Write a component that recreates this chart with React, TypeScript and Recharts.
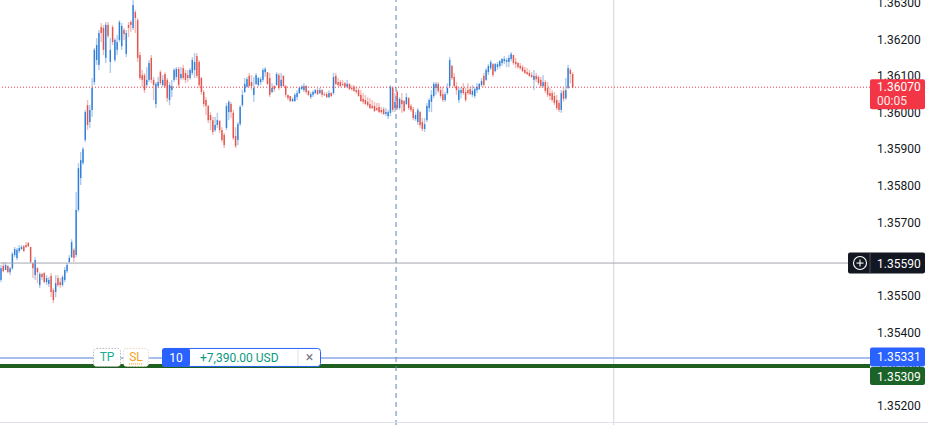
import { ComposedChart, Bar, XAxis, YAxis, ReferenceLine } from "recharts";

// 1-minute candles, oldest first
const opens = [
  1.35544, 1.35582, 1.35571, 1.35582, 1.35565, 1.35576, 1.35612, 1.35604, 1.35623, 1.35628,
  1.35636, 1.35639, 1.35645, 1.35634, 1.3559, 1.35557, 1.35576, 1.3553, 1.3556, 1.35563,
  1.35538, 1.35533, 1.35555, 1.35516, 1.35511, 1.35549, 1.35538, 1.3553, 1.35544, 1.35568,
  1.35593, 1.35606, 1.35626, 1.35612, 1.35735, 1.35822, 1.35863, 1.35926, 1.36021, 1.35975,
  1.36008, 1.36084, 1.36144,
  1.36131, 1.36234, 1.36232, 1.3615, 1.3624, 1.36139, 1.36234, 1.36144, 1.36172, 1.36199,
  1.36182, 1.36226, 1.36161, 1.3624, 1.36248, 1.36232, 1.36275, 1.36253, 1.36158, 1.36103,
  1.36103, 1.36076, 1.3609, 1.3615, 1.3609, 1.36024, 1.36073, 1.36111, 1.36076, 1.36106,
  1.3609, 1.36035, 1.36062, 1.3609, 1.36098, 1.3612, 1.36095, 1.36122, 1.36109, 1.36103,
  1.36095, 1.36109, 1.36117, 1.36155,
  1.36139, 1.36095, 1.36057, 1.36035, 1.36019, 1.35994, 1.3598, 1.35953, 1.35967, 1.35978,
  1.35953, 1.3594, 1.35959, 1.36002, 1.36024, 1.36, 1.35937, 1.35926, 1.35969, 1.36021,
  1.36057, 1.36071, 1.36101, 1.36084, 1.36049, 1.36079, 1.36076, 1.36084, 1.3609, 1.36111,
  1.36111, 1.36095, 1.36057, 1.36073, 1.36076, 1.36103, 1.36073, 1.36101, 1.36073, 1.36049,
  1.36046, 1.36032, 1.36032, 1.36043, 1.36054, 1.36065,
  1.36062, 1.36073, 1.3606, 1.36043, 1.36049, 1.36054, 1.36062, 1.36054, 1.36062, 1.36051,
  1.36051, 1.36043, 1.36054, 1.36054, 1.36101, 1.36084, 1.36084, 1.36079, 1.36081, 1.36071,
  1.36079, 1.36068, 1.36071, 1.36062, 1.36062, 1.36049, 1.36038, 1.36035, 1.3603, 1.36024,
  1.36019, 1.36019, 1.36013, 1.36016, 1.36008, 1.3601, 1.35997, 1.35991, 1.36, 1.36068,
  1.36013, 1.36057, 1.36013, 1.36035, 1.36032, 1.36024, 1.3604,
  1.36019, 1.3601, 1.35983, 1.35975, 1.36002, 1.35975, 1.35956, 1.3598, 1.36013, 1.3603,
  1.36046, 1.36068, 1.36079, 1.36062, 1.36051, 1.36035, 1.36054, 1.36073, 1.36128, 1.36098,
  1.36073, 1.36035, 1.36054, 1.36068, 1.36057, 1.36062, 1.36065, 1.36049, 1.36046, 1.36062,
  1.36065, 1.36076, 1.36101, 1.3609, 1.36111, 1.36122, 1.36133, 1.36114, 1.36125,
  1.36128, 1.36136, 1.36141, 1.36139, 1.36139, 1.36147, 1.36158, 1.36139, 1.36136, 1.36128,
  1.36125, 1.36117, 1.36111, 1.36109, 1.36103, 1.3609, 1.36101, 1.36098, 1.3609, 1.36073,
  1.36084, 1.36068, 1.36054, 1.36054, 1.36046, 1.36035, 1.36027, 1.36008, 1.3606, 1.3604,
  1.36068, 1.36117, 1.36106,
];

const highs = [
  1.35585, 1.35593, 1.35593, 1.35585, 1.35579, 1.3562, 1.35634, 1.35631, 1.35639, 1.35639,
  1.35639, 1.35647, 1.35647, 1.35634, 1.3559, 1.35606, 1.35579, 1.35565, 1.35563, 1.35565,
  1.35557, 1.35552, 1.35563, 1.35522, 1.35557, 1.35557, 1.35549, 1.35557, 1.35579, 1.3559,
  1.35612, 1.35655, 1.35631, 1.35784, 1.35863, 1.35893, 1.35907, 1.36008, 1.36035, 1.36021,
  1.36095, 1.36177, 1.36204,
  1.36226, 1.36245, 1.3624, 1.36248, 1.36248, 1.36204, 1.3624, 1.36204, 1.36212, 1.36253,
  1.36245, 1.36232, 1.36226, 1.36248, 1.36253, 1.36319, 1.36281, 1.36259, 1.36166, 1.36117,
  1.36109, 1.36125, 1.36144, 1.36158, 1.36098, 1.36084, 1.36098, 1.36117, 1.36103, 1.36111,
  1.36095, 1.36084, 1.3609, 1.36122, 1.36125, 1.36125, 1.36125, 1.36131, 1.36117, 1.36117,
  1.36122, 1.36152, 1.36163, 1.36163,
  1.36144, 1.36098, 1.36062, 1.36043, 1.36021, 1.36002, 1.35989, 1.35989, 1.36, 1.3598,
  1.35961, 1.35945, 1.36027, 1.36035, 1.3603, 1.36008, 1.35961, 1.35975, 1.36021, 1.36062,
  1.36095, 1.36098, 1.36109, 1.36103, 1.36098, 1.36109, 1.36098, 1.36098, 1.36122, 1.36125,
  1.36111, 1.36109, 1.36081, 1.36076, 1.36111, 1.36109, 1.36109, 1.36103, 1.36076, 1.36049,
  1.36046, 1.36043, 1.36054, 1.36062, 1.36071, 1.36076,
  1.36081, 1.36076, 1.36062, 1.36057, 1.36062, 1.36065, 1.36068, 1.36068, 1.36065, 1.36057,
  1.36057, 1.36062, 1.36057, 1.36109, 1.36109, 1.36095, 1.3609, 1.3609, 1.36084, 1.3609,
  1.36081, 1.36076, 1.36076, 1.36071, 1.36068, 1.36062, 1.36054, 1.36049, 1.36043, 1.3604,
  1.36035, 1.3603, 1.36027, 1.36027, 1.36016, 1.36016, 1.36013, 1.36008, 1.36076, 1.36071,
  1.36054, 1.36062, 1.36043, 1.36054, 1.36035, 1.36054, 1.36043,
  1.36024, 1.36016, 1.36002, 1.36013, 1.36005, 1.35986, 1.35986, 1.36027, 1.3604, 1.36062,
  1.36084, 1.36084, 1.36084, 1.36071, 1.36071, 1.36057, 1.36081, 1.36152, 1.36131, 1.36109,
  1.36084, 1.36068, 1.36071, 1.36081, 1.36068, 1.36081, 1.36071, 1.36076, 1.36071, 1.36081,
  1.36081, 1.36095, 1.36109, 1.36122, 1.36133, 1.36144, 1.36136, 1.36136, 1.36139,
  1.36144, 1.3615, 1.36155, 1.3615, 1.36158, 1.36166, 1.36158, 1.3615, 1.36139, 1.36136,
  1.36131, 1.36125, 1.36122, 1.36117, 1.36111, 1.36117, 1.36109, 1.36103, 1.36098, 1.36103,
  1.3609, 1.36084, 1.36068, 1.36062, 1.36057, 1.36049, 1.36035, 1.36062, 1.36068, 1.36095,
  1.36131, 1.36122, 1.36111,
];

const lows = [
  1.35538, 1.35565, 1.35571, 1.35563, 1.35557, 1.35571, 1.35606, 1.35598, 1.35617, 1.35626,
  1.3562, 1.35631, 1.35634, 1.3559, 1.35549, 1.35544, 1.35535, 1.35522, 1.35544, 1.35535,
  1.3553, 1.35525, 1.35497, 1.35481, 1.35497, 1.35525, 1.35522, 1.35525, 1.35538, 1.35563,
  1.3559, 1.35604, 1.35593, 1.35606, 1.35729, 1.35803, 1.35858, 1.3592, 1.35953, 1.35959,
  1.35989, 1.36076, 1.36131,
  1.36117, 1.36193, 1.36158, 1.36136, 1.36204, 1.36109, 1.36185, 1.36139, 1.36158, 1.36193,
  1.36172, 1.36199, 1.36152, 1.36207, 1.36221, 1.36226, 1.36218, 1.36139, 1.3609, 1.36071,
  1.36054, 1.36071, 1.36084, 1.36081, 1.36035, 1.36013, 1.36068, 1.36076, 1.36071, 1.36068,
  1.3603, 1.36021, 1.36043, 1.36084, 1.3609, 1.36068, 1.3609, 1.3609, 1.36081, 1.36084,
  1.3609, 1.36103, 1.36095, 1.36095,
  1.36068, 1.36049, 1.36016, 1.35994, 1.35972, 1.35953, 1.3594, 1.35948, 1.35959, 1.35945,
  1.3592, 1.35904, 1.35953, 1.3598, 1.35986, 1.35926, 1.35904, 1.35912, 1.35964, 1.36016,
  1.36054, 1.36068, 1.36071, 1.36062, 1.3603, 1.36076, 1.36071, 1.36076, 1.36084, 1.36098,
  1.36076, 1.36043, 1.36054, 1.36057, 1.36073, 1.36062, 1.36068, 1.36071, 1.36043, 1.36035,
  1.3603, 1.3603, 1.3603, 1.36035, 1.36051, 1.36062,
  1.36057, 1.36051, 1.36046, 1.36038, 1.36043, 1.36051, 1.36049, 1.36051, 1.36043, 1.36046,
  1.3604, 1.3604, 1.36043, 1.36049, 1.36076, 1.36071, 1.36071, 1.36073, 1.36068, 1.36068,
  1.36062, 1.3606, 1.36057, 1.36051, 1.36043, 1.3603, 1.36024, 1.36021, 1.36016, 1.3601,
  1.3601, 1.36002, 1.36005, 1.36, 1.35997, 1.35994, 1.35991, 1.35983, 1.35991, 1.36002,
  1.36002, 1.36008, 1.36008, 1.36, 1.36002, 1.36021, 1.36008,
  1.36002, 1.3598, 1.35978, 1.35967, 1.35959, 1.3595, 1.35948, 1.35975, 1.36002, 1.36002,
  1.3604, 1.36049, 1.36054, 1.3604, 1.3603, 1.3603, 1.36049, 1.36068, 1.3609, 1.36068,
  1.36049, 1.36027, 1.3604, 1.36049, 1.3603, 1.36049, 1.36049, 1.36043, 1.3604, 1.36054,
  1.36062, 1.36071, 1.36071, 1.36087, 1.36103, 1.36117, 1.36098, 1.36111, 1.36117,
  1.36122, 1.36128, 1.36133, 1.36125, 1.36125, 1.36141, 1.36131, 1.36122, 1.3612, 1.36117,
  1.36111, 1.36106, 1.36103, 1.36098, 1.36095, 1.36062, 1.36084, 1.36076, 1.36068, 1.36068,
  1.36054, 1.36043, 1.36035, 1.3603, 1.36021, 1.36008, 1.36002, 1.36, 1.3603, 1.36035,
  1.36065, 1.36081, 1.36068,
];

const closes = [
  1.35576, 1.35568, 1.35585, 1.35565, 1.35576, 1.35615, 1.35628, 1.35626, 1.35631, 1.35634,
  1.35623, 1.35634, 1.35636, 1.35593, 1.35576, 1.35598, 1.35565, 1.3556, 1.35552, 1.35538,
  1.35549, 1.35544, 1.35511, 1.35489, 1.35535, 1.3553, 1.3553, 1.35552, 1.35571, 1.35585,
  1.35604, 1.35647, 1.35604, 1.35735, 1.35849, 1.35871, 1.35901, 1.36002, 1.35967, 1.36008,
  1.36068, 1.36172, 1.36185,
  1.36218, 1.36218, 1.36172, 1.3624, 1.3621, 1.36172, 1.36193, 1.36199, 1.36193, 1.36248,
  1.36237, 1.36215, 1.36218, 1.36232, 1.3624, 1.36294, 1.36259, 1.3615, 1.36095, 1.3609,
  1.36062, 1.3609, 1.36136, 1.3609, 1.36076, 1.36079, 1.36084, 1.36081, 1.3609, 1.36073,
  1.3604, 1.36076, 1.36073, 1.36117, 1.3612, 1.36076, 1.36106, 1.36095, 1.3609, 1.36095,
  1.36117, 1.36144, 1.36139, 1.36101,
  1.36076, 1.36057, 1.36024, 1.36019, 1.3598, 1.3598, 1.35948, 1.35967, 1.3598, 1.35953,
  1.35926, 1.35912, 1.36019, 1.3603, 1.36002, 1.35931, 1.35909, 1.35969, 1.36016, 1.36049,
  1.36079, 1.36092, 1.36073, 1.36073, 1.36068, 1.36103, 1.36095, 1.36092, 1.36117, 1.3612,
  1.36079, 1.36049, 1.36068, 1.36065, 1.36106, 1.36068, 1.3609, 1.36073, 1.36049, 1.3604,
  1.36032, 1.36038, 1.36049, 1.36054, 1.36068, 1.36071,
  1.36073, 1.36057, 1.36049, 1.36051, 1.36057, 1.36062, 1.36051, 1.36062, 1.36049, 1.36049,
  1.36043, 1.36054, 1.36046, 1.36098, 1.36079, 1.36076, 1.36073, 1.36076, 1.36071, 1.36079,
  1.36065, 1.36065, 1.3606, 1.36057, 1.36046, 1.36032, 1.3603, 1.36024, 1.36021, 1.36013,
  1.36013, 1.36005, 1.36008, 1.36002, 1.36002, 1.35997, 1.36002, 1.36002, 1.36071, 1.36008,
  1.3603, 1.36013, 1.36038, 1.36024, 1.36005, 1.36043, 1.36013,
  1.36008, 1.35986, 1.35994, 1.36008, 1.35967, 1.35956, 1.35969, 1.36019, 1.36035, 1.36049,
  1.36079, 1.36079, 1.3606, 1.36046, 1.36035, 1.36051, 1.36068, 1.36144, 1.36095, 1.36073,
  1.36062, 1.36062, 1.36062, 1.36054, 1.36035, 1.36054, 1.36051, 1.3606, 1.36065, 1.36071,
  1.36079, 1.36087, 1.36076, 1.36117, 1.36128, 1.36139, 1.36103, 1.36133, 1.36133,
  1.36141, 1.36147, 1.36147, 1.36144, 1.3615, 1.36161, 1.36136, 1.36133, 1.36125, 1.36122,
  1.36114, 1.36109, 1.36106, 1.36101, 1.36098, 1.36101, 1.36092, 1.36081, 1.36073, 1.36084,
  1.3606, 1.36049, 1.36046, 1.36035, 1.36027, 1.36013, 1.36008, 1.36054, 1.36038, 1.36062,
  1.36122, 1.36106, 1.3607,
];

const priceTicks = [
  1.352, 1.353, 1.354, 1.355, 1.356, 1.357, 1.358, 1.359, 1.36, 1.361, 1.362, 1.363,
];

const lastPrice = 1.3607;
const countdown = "00:05";
const crosshairPrice = 1.3559;
const entryPrice = 1.35331;
const stopPrice = 1.35309;
const orderQty = "10";
const orderPnl = "+7,390.00 USD";

const SLOTS = 382; // bar slots across the pane, the right part is still empty
const CROSSHAIR_BAR = 173.4;
const GRID_BAR = 269;
const PRICE_DOMAIN = [1.35148, 1.36308];

const UP = "#2f7ed8";
const DOWN = "#e2544e";

const data = opens.map((o, i) => ({
  i,
  o,
  h: highs[i],
  l: lows[i],
  c: closes[i],
  range: [lows[i], highs[i]],
}));

const Candle = (props: any) => {
  const { x, y, width, height, payload } = props;
  const top = Math.min(y, y + height);
  const len = Math.abs(height);
  const { o, c, h, l } = payload;
  const k = h === l ? 0 : len / (h - l);
  const cx = x + width / 2;
  const yo = top + (h - o) * k;
  const yc = top + (h - c) * k;
  const color = c >= o ? UP : DOWN;
  return (
    <g>
      <rect x={cx - 0.7} y={top} width={1.4} height={Math.max(len, 1)} fill={color} opacity={0.4} />
      <rect
        x={cx - 0.7}
        y={Math.min(yo, yc)}
        width={1.4}
        height={Math.max(Math.abs(yc - yo), 1)}
        fill={color}
      />
    </g>
  );
};

const PriceTick = ({ x, y, payload }: any) => (
  <text x={x} y={y} dy={4} fontSize={12} fill="#131722">
    {payload.value.toFixed(5)}
  </text>
);

const Tag = ({ viewBox, text, sub, fill, top, h }: any) => {
  const left = viewBox.x + viewBox.width;
  const y = viewBox.y;
  return (
    <g>
      <rect x={left} y={y + top} width={55} height={h} rx={2} fill={fill} />
      <text x={left + 7} y={y + top + h / 2 + (sub ? -3 : 4.5)} fill="#fff" fontSize={12}>
        {text}
      </text>
      {sub && (
        <text x={left + 7} y={y + top + h - 4} fill="#fff" fontSize={12} opacity={0.9}>
          {sub}
        </text>
      )}
    </g>
  );
};

const CrossTag = ({ viewBox }: any) => {
  const left = viewBox.x + viewBox.width;
  const y = viewBox.y;
  return (
    <g>
      <rect x={left - 22} y={y - 10.5} width={77} height={21} rx={2} fill="#131722" />
      <circle cx={left - 10} cy={y} r={6.5} fill="none" stroke="#fff" strokeWidth={1.1} />
      <line x1={left - 13.5} x2={left - 6.5} y1={y} y2={y} stroke="#fff" strokeWidth={1.1} />
      <line x1={left - 10} x2={left - 10} y1={y - 3.5} y2={y + 3.5} stroke="#fff" strokeWidth={1.1} />
      <line x1={left} x2={left} y1={y - 10.5} y2={y + 10.5} stroke="#50535e" />
      <text x={left + 7} y={y + 4.5} fill="#fff" fontSize={12}>
        {crosshairPrice.toFixed(5)}
      </text>
    </g>
  );
};

const OrderPanel = ({ viewBox }: any) => {
  const x0 = viewBox.x;
  const y = viewBox.y;
  const t = y - 10;
  return (
    <g>
      <rect x={x0 + 93.5} y={t + 0.5} width={27} height={18} rx={3} fill="#fff" stroke="#b2b5be" strokeDasharray="1.5 1.5" />
      <text x={x0 + 107} y={y + 3.5} textAnchor="middle" fontSize={12} fill="#22ab94">TP</text>
      <rect x={x0 + 123.5} y={t + 0.5} width={25} height={18} rx={3} fill="#fff" stroke="#e8d9b8" strokeDasharray="1.5 1.5" />
      <text x={x0 + 136} y={y + 3.5} textAnchor="middle" fontSize={12} fill="#f7a21b">SL</text>
      <line x1={x0 + 129} x2={x0 + 143} y1={y + 6} y2={y + 6} stroke="#f7a21b" strokeDasharray="1 1" />
      <rect x={x0 + 162.5} y={t + 0.5} width={158} height={18} rx={3} fill="#fff" stroke="#2962ff" />
      <rect x={x0 + 162} y={t} width={28} height={19} rx={3} fill="#2962ff" />
      <text x={x0 + 176} y={y + 4} textAnchor="middle" fontSize={12} fill="#fff">{orderQty}</text>
      <text x={x0 + 200} y={y + 4} fontSize={12} fill="#089981">{orderPnl}</text>
      <line x1={x0 + 298} x2={x0 + 298} y1={t + 1} y2={t + 18} stroke="#e0e3eb" />
      <text x={x0 + 309.5} y={y + 4.5} textAnchor="middle" fontSize={14} fill="#787b86">×</text>
    </g>
  );
};

const layer: any = { position: "absolute", left: 0, top: 0 };

export default function App() {
  return (
    <div
      style={{
        position: "absolute",
        left: 0,
        top: 0,
        width: 928,
        height: 425,
        background: "#fff",
        overflow: "hidden",
        fontFamily: "Roboto, sans-serif",
      }}
    >
      <div style={layer}>
        <ComposedChart width={928} height={425} data={data} margin={{ top: 0, right: 0, bottom: 0, left: 0 }}>
          <XAxis type="number" dataKey="i" domain={[-0.5, SLOTS - 0.5]} hide allowDataOverflow />
          <YAxis
            orientation="right"
            width={58}
            domain={PRICE_DOMAIN}
            allowDataOverflow
            ticks={priceTicks}
            interval={0}
            axisLine={false}
            tickLine={false}
            tickSize={0}
            tickMargin={7}
            tick={<PriceTick />}
          />
          <ReferenceLine x={GRID_BAR} stroke="#d1d4dc" />
          <ReferenceLine y={crosshairPrice} stroke="#a3a6af" />
          <ReferenceLine y={lastPrice} stroke="#f23645" strokeDasharray="1 2" />
          <ReferenceLine y={entryPrice} stroke="#a8bfee" strokeWidth={2} />
          <ReferenceLine y={stopPrice} stroke="#1f5f1f" strokeWidth={4} />
          <Bar dataKey="range" barSize={2} isAnimationActive={false} shape={(p: any) => <Candle {...p} />} />
          <ReferenceLine x={CROSSHAIR_BAR} stroke="#5d82b8" strokeDasharray="5 4" />
        </ComposedChart>
      </div>
      {/* price tags and the order panel sit above the price scale */}
      <div style={layer}>
        <ComposedChart width={928} height={425} data={data} margin={{ top: 0, right: 0, bottom: 0, left: 0 }}>
          <XAxis type="number" dataKey="i" domain={[-0.5, SLOTS - 0.5]} hide allowDataOverflow />
          <YAxis
            orientation="right"
            width={58}
            domain={PRICE_DOMAIN}
            allowDataOverflow
            ticks={priceTicks}
            axisLine={false}
            tickLine={false}
            tick={false}
          />
          <ReferenceLine
            y={entryPrice}
            stroke="none"
            label={(p: any) => (
              <g>
                <OrderPanel viewBox={p.viewBox} />
                <Tag viewBox={p.viewBox} text={entryPrice.toFixed(5)} fill="#2962ff" top={-10.5} h={19} />
              </g>
            )}
          />
          <ReferenceLine
            y={stopPrice}
            stroke="none"
            label={(p: any) => <Tag viewBox={p.viewBox} text={stopPrice.toFixed(5)} fill="#1b6327" top={1} h={18} />}
          />
          <ReferenceLine
            y={lastPrice}
            stroke="none"
            label={(p: any) => (
              <Tag viewBox={p.viewBox} text={lastPrice.toFixed(5)} sub={countdown} fill="#f23645" top={-8} h={30} />
            )}
          />
          <ReferenceLine y={crosshairPrice} stroke="none" label={(p: any) => <CrossTag viewBox={p.viewBox} />} />
        </ComposedChart>
      </div>
      <div style={{ position: "absolute", left: 0, top: 422, width: 928, height: 1, background: "#e0e3eb" }} />
    </div>
  );
}
